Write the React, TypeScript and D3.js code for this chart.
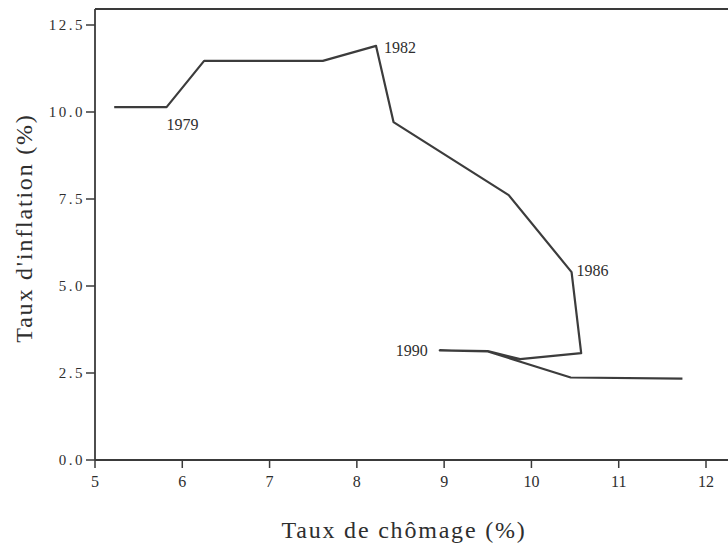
import React from "react";
import * as d3 from "d3";

// Trajectory (unemployment %, inflation %) in time order
const unemployment = [5.22, 5.82, 6.25, 7.61, 8.22, 8.42, 9.74, 10.46, 10.57, 9.87, 9.5, 8.95, 9.5, 10.45, 11.73];
const inflation = [10.14, 10.14, 11.47, 11.47, 11.9, 9.71, 7.61, 5.4, 3.07, 2.9, 3.13, 3.15, 3.12, 2.37, 2.34];
const pointLabels = ["", "1979", "", "", "1982", "", "", "1986", "", "", "", "1990", "", "", ""];

const xTicks = [5, 6, 7, 8, 9, 10, 11, 12];
const yTicks = [0, 2.5, 5, 7.5, 10, 12.5];

const W = 728;
const H = 545;
const FONT = "'Liberation Serif', 'DejaVu Serif', serif";
const INK = "#3a3a3a";
const TEXT = "#2e2e2e";

export default function App() {
  const x = d3.scaleLinear().domain([5, 12]).range([95, 706]);
  const y = d3.scaleLinear().domain([0, 12.5]).range([460, 25]);
  const x0 = x(5);
  const y0 = y(0);
  const yTop = y(12.96);
  const xRight = W;

  const pts: [number, number][] = unemployment.map((u, i) => [u, inflation[i]]);
  const line = d3
    .line<[number, number]>()
    .x((d) => x(d[0]))
    .y((d) => y(d[1]));

  const labelOffsets: Record<string, [number, number, string]> = {
    "1979": [0, 23, "start"],
    "1982": [8, 7, "start"],
    "1986": [5, 4, "start"],
    "1990": [-12, 6, "end"],
  };

  return (
    <svg
      width={W}
      height={H}
      style={{ position: "absolute", left: 0, top: 0, background: "#fff" }}
      fontFamily={FONT}
    >
      <rect x={0} y={0} width={W} height={H} fill="#fff" />
      {/* frame */}
      <line x1={x0} y1={yTop} x2={xRight} y2={yTop} stroke={INK} strokeWidth={2} />
      <line x1={x0} y1={yTop} x2={x0} y2={y0} stroke={INK} strokeWidth={1.8} />
      <line x1={x0} y1={y0} x2={xRight} y2={y0} stroke={INK} strokeWidth={1.8} />

      {/* y ticks */}
      {yTicks.map((t) => (
        <g key={"y" + t}>
          <line x1={x0 - 9} x2={x0} y1={y(t)} y2={y(t)} stroke={INK} strokeWidth={1.5} />
          <text
            x={x0 - 10}
            y={y(t)}
            dy="0.35em"
            textAnchor="end"
            fontSize={15}
            letterSpacing={2.5}
            fill={TEXT}
          >
            {d3.format(".1f")(t)}
          </text>
        </g>
      ))}

      {/* x ticks */}
      {xTicks.map((t) => (
        <g key={"x" + t}>
          <line x1={x(t)} x2={x(t)} y1={y0} y2={y0 + 8} stroke={INK} strokeWidth={1.5} />
          <text x={x(t)} y={y0 + 27} textAnchor="middle" fontSize={16} fill={TEXT}>
            {t}
          </text>
        </g>
      ))}

      {/* axis titles */}
      <text
        transform={`translate(32, 228) rotate(-90)`}
        textAnchor="middle"
        fontSize={24}
        letterSpacing={1.8}
        fill={TEXT}
      >
        Taux d'inflation (%)
      </text>
      <text x={404} y={538} textAnchor="middle" fontSize={24} letterSpacing={1.8} fill={TEXT}>
        Taux de chômage (%)
      </text>

      {/* trajectory */}
      <path d={line(pts) || ""} fill="none" stroke="#3c3c3c" strokeWidth={2.2} strokeLinejoin="round" />

      {/* year labels */}
      {pts.map((p, i) => {
        const lab = pointLabels[i];
        if (!lab) return null;
        const [dx, dy, anchor] = labelOffsets[lab];
        return (
          <text
            key={lab}
            x={x(p[0]) + dx}
            y={y(p[1]) + dy}
            textAnchor={anchor as any}
            fontSize={16}
            fill={TEXT}
          >
            {lab}
          </text>
        );
      })}
    </svg>
  );
}
